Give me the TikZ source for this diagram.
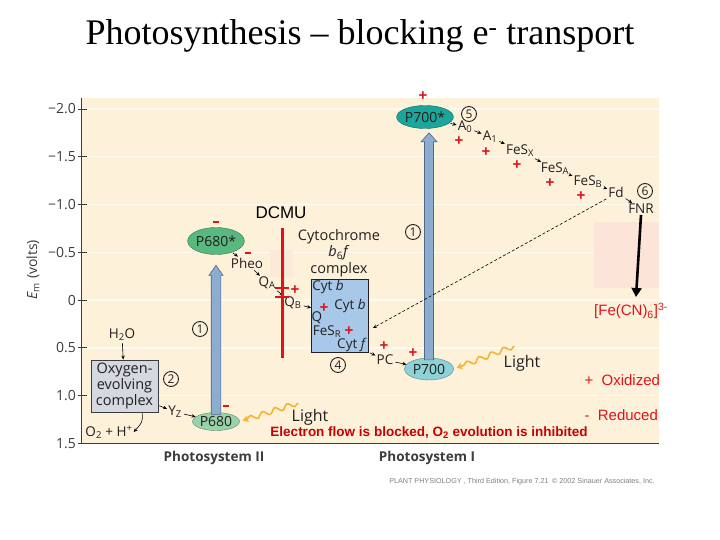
\documentclass[tikz,border=0pt]{standalone}
\usepackage{fontspec}
\setmainfont{Open Sans}
\newfontfamily\titlefont{Liberation Serif}
\newfontfamily\arialfont{Liberation Sans}
\usepackage{tikz}
\usetikzlibrary{calc, arrows.meta, positioning, decorations.pathmorphing, shapes.geometric}
\usepackage{xcolor}
\definecolor{cream}{RGB}{253,241,218}
\definecolor{gridc}{RGB}{255,250,241}
\definecolor{pinkbg}{RGB}{252,229,216}
\definecolor{axisc}{RGB}{60,60,60}
\definecolor{ink}{RGB}{35,31,32}
\definecolor{redmark}{RGB}{222,20,28}
\definecolor{redtext}{RGB}{200,0,0}
\definecolor{psIIex}{RGB}{88,184,128}
\definecolor{psII}{RGB}{152,210,168}
\definecolor{psIex}{RGB}{28,165,155}
\definecolor{psI}{RGB}{140,210,214}
\definecolor{arrblue}{RGB}{140,172,208}
\definecolor{arredge}{RGB}{80,105,135}
\definecolor{cytblue}{RGB}{168,200,234}
\definecolor{oecgray}{RGB}{212,216,224}
\definecolor{lightc}{RGB}{242,180,50}

\begin{document}
\begin{tikzpicture}[x=1pt, y=-1pt, font=\fontsize{14.5}{16}\selectfont, text=ink,
    sm/.style={inner sep=1pt, font=\fontsize{13.5}{14}\selectfont},
    pig/.style={ellipse, draw=#1!65!black, fill=#1, inner sep=0pt, font=\fontsize{14}{15}\selectfont},
    num/.style={circle, draw=ink, line width=0.9pt, inner sep=0pt, minimum size=15pt, font=\fontsize{12}{12}\selectfont},
    oxm/.style={text=redmark, inner sep=0pt, font=\arialfont\bfseries\fontsize{15}{15}\selectfont},
    redm/.style={fill=redmark, inner sep=0pt, minimum width=6pt, minimum height=2pt},
    et/.style={-{Stealth[length=4pt, width=3.5pt]}, line width=0.6pt, shorten <=1pt},
    bigarr/.style={draw=arredge, fill=arrblue, line width=0.6pt},
    wave/.style={draw=lightc, line width=1.6pt, decorate,
      decoration={snake, amplitude=2.5pt, segment length=13pt, post length=6pt},
      -{Stealth[length=6pt, width=7pt]}},
    note/.style={text=redmark, font=\arialfont\fontsize{15}{17}\selectfont}]
    \useasboundingbox (0,0) rectangle (720,540);
    \fill[white] (0,0) rectangle (720,540);

    \fill[cream] (81,98) rectangle (659,443);
    \foreach \v in {-2.0,-1.5,-1.0,-0.5,0,0.5,1.0}
      \draw[gridc, line width=1.5pt] (82,{300+95.5*\v}) -- (659,{300+95.5*\v});
    \fill[pinkbg] (594,222) rectangle (659,288);
    \fill[pinkbg!60!cream] (270,250) rectangle (293,277);
    \draw[axisc, line width=1pt] (81,98) -- (81,443) -- (659,443);
    \foreach \v/\t [count=\i] in {-2.0/−2.0, -1.5/−1.5, -1.0/−1.0, -0.5/−0.5, 0/0, 0.5/0.5, 1.0/1.0, 1.5/1.5} {
      \draw[axisc, line width=0.8pt] (78,{300+95.5*\v}) -- (87,{300+95.5*\v});
      \node[anchor=east, inner sep=0pt, text=axisc, font=\fontsize{14}{15}\selectfont] (tk\i) at (76,{300+95.5*\v}) {\t};
    }
    \node[rotate=90, text=axisc, font=\fontsize{14}{15}\selectfont] (ylab) at (33,270) {\textit{E}\textsubscript{m} (volts)};

    \node[font=\titlefont\fontsize{36}{40}\selectfont, text=black] (title) at (360,36)
      {Photosynthesis – blocking e\textsuperscript{-} transport};

    \node[pig=psIIex, minimum width=54pt, minimum height=27pt] (p680x) at (216,241) {P680*};
    \node[pig=psII, minimum width=47pt, minimum height=18pt] (p680) at (216,421.5) {P680};
    \node[pig=psIex, minimum width=52pt, minimum height=23pt] (p700x) at (425,117) {P700*};
    \node[pig=psI, minimum width=49pt, minimum height=22pt] (p700) at (429,369) {P700};

    \draw[bigarr] ($(p680.north)+(-4.8,2)$) -- ++(0,-139) -- ++(-2.2,0) -- ++(7,-10)
      -- ++(7,10) -- ++(-2.2,0) -- ++(0,139) -- cycle;
    \draw[bigarr] ($(p700.north)+(-4.5,2)$) -- ++(0,-218) -- ++(-3.5,0) -- ++(8,-9)
      -- ++(8,9) -- ++(-3.5,0) -- ++(0,218) -- cycle;

    \node[sm] (pheo) at (247,263) {Pheo};
    \node[sm] (qa) at (267,283) {Q\textsubscript{A}};
    \node[sm] (qb) at (293,303) {Q\textsubscript{B}};
    \node[draw=ink, fill=cytblue, line width=0.8pt, minimum width=57pt, minimum height=73pt] (cytbf) at (340,315.5) {};
    \node[sm] (cb1) at (328,287) {Cyt \textit{b}};
    \node[sm] (cb2) at (350,306) {Cyt \textit{b}};
    \node[sm] (qq) at (317,318) {Q};
    \node[sm] (fesr) at (327,332) {FeS\textsubscript{R}};
    \node[sm] (cf) at (352,345) {Cyt \textit{f}};
    \node[align=center, inner sep=0pt, font=\fontsize{14.5}{16.5}\selectfont] (cytlbl) at (339,253)
      {Cytochrome\\\textit{b}\textsubscript{6}\textit{f}\\complex};
    \node[sm] (pc) at (385,360) {PC};
    \foreach \a/\b in {p680x/pheo, pheo/qa, qa/qb, qb/cytbf, pc/p700}
      \draw[et] (\a) -- (\b);
    \draw[et] (cytbf.south east) -- (pc);

    \node[sm] (a0) at (465,127) {A\textsubscript{0}};
    \node[sm] (a1) at (490,137) {A\textsubscript{1}};
    \node[sm] (fesx) at (520,151) {FeS\textsubscript{X}};
    \node[sm] (fesa) at (555,169) {FeS\textsubscript{A}};
    \node[sm] (fesb) at (588,182) {FeS\textsubscript{B}};
    \node[sm] (fd) at (616,192) {Fd};
    \node[sm] (fnr) at (641,209) {FNR};
    \foreach \a/\b in {p700x/a0, a0/a1, a1/fesx, fesx/fesa, fesa/fesb, fesb/fd, fd/fnr}
      \draw[et] (\a) -- (\b);
    \coordinate (dashend) at (373,328);
    \draw[et, dash pattern=on 3pt off 2pt] (fd.south west) -- (dashend);

    \node[note] (ferri) at (631,311) {[Fe(CN)\textsubscript{6}]\textsuperscript{3-}};
    \coordinate (ferritip) at (636,297);
    \draw[line width=2.6pt, -{Triangle[length=9pt, width=10pt]}] (fnr.south) -- (ferritip);

    \node[draw=axisc, fill=oecgray, line width=0.8pt, minimum width=67pt, minimum height=52pt,
      align=center, inner sep=1pt, font=\fontsize{14.5}{15.8}\selectfont] (oec) at (124.5,386)
      {Oxygen-\\evolving\\complex};
    \node[sm] (h2o) at (122,335) {H\textsubscript{2}O};
    \node[sm] (o2) at (109,432) {O\textsubscript{2} + H\textsuperscript{+}};
    \node[sm] (yz) at (175,412) {Y\textsubscript{Z}};
    \draw[et] (h2o) -- (oec);
    \draw[et] ($(oec.south east)+(-16,0)$) .. controls +(0,10) .. (o2.east);
    \draw[et] ($(oec.south east)+(0,-7)$) -- (yz);
    \draw[et] (yz) -- (p680);

    \node[num] (n1a) at (200,329) {1};
    \node[num] (n2) at (171,379) {2};
    \node[num] (n1b) at (413,232) {1};
    \node[num] (n4) at (338,365) {4};
    \node[num] (n5) at (469,114) {5};
    \node[num] (n6) at (645,191) {6};

    \node[font=\fontsize{16}{17}\selectfont] (light1) at (522,363) {Light};
    \node[font=\fontsize{16}{17}\selectfont] (light2) at (310,417) {Light};
    \coordinate (w1) at (514,346);
    \coordinate (w2) at (298,403);
    \draw[wave, shorten >=3pt] (w1) -- (p700.east);
    \draw[wave, shorten >=3pt] (w2) -- (p680.east);

    \node[font=\arialfont\fontsize{17}{18}\selectfont, text=black] (dcmu) at (281,213) {DCMU};
    \coordinate (blktop) at (282,228);
    \coordinate (blkbot) at (282,358);
    \draw[redmark, line width=3pt] (blktop) -- (blkbot);
    \draw[redmark, line width=2.6pt] (275,288) -- (289,288) (275,297) -- (289,297);

    \foreach \x/\y [count=\i] in {423/96, 459/141, 486/152, 517/165, 550/183, 581/196,
        295/290, 324/308, 349/331, 384/346, 413/353}
      \node[oxm] (ox\i) at (\x,\y) {+};
    \foreach \x/\y [count=\i] in {216/222, 248/253, 226/406}
      \node[redm] (re\i) at (\x,\y) {};

    \node[note, anchor=west] (oxi) at (581,380) {+\ \ Oxidized};
    \node[note, anchor=west] (red) at (581,415) {-\ \ Reduced};
    \node[font=\arialfont\bfseries\fontsize{13.5}{15}\selectfont, text=redtext] (blocked) at (429,433)
      {Electron flow is blocked, O\textsubscript{2} evolution is inhibited};

    \node[font=\bfseries\fontsize{13.5}{15}\selectfont, text=axisc] (ps2) at (214,458) {Photosystem II};
    \node[font=\bfseries\fontsize{13.5}{15}\selectfont, text=axisc] (ps1) at (427,458) {Photosystem I};
    \node[font=\arialfont\fontsize{7.2}{8}\selectfont, text=gray] (credit) at (522,482)
      {PLANT PHYSIOLOGY , Third Edition, Figure 7.21\enspace© 2002 Sinauer Associates, Inc.};
  \end{tikzpicture}
\end{document}
